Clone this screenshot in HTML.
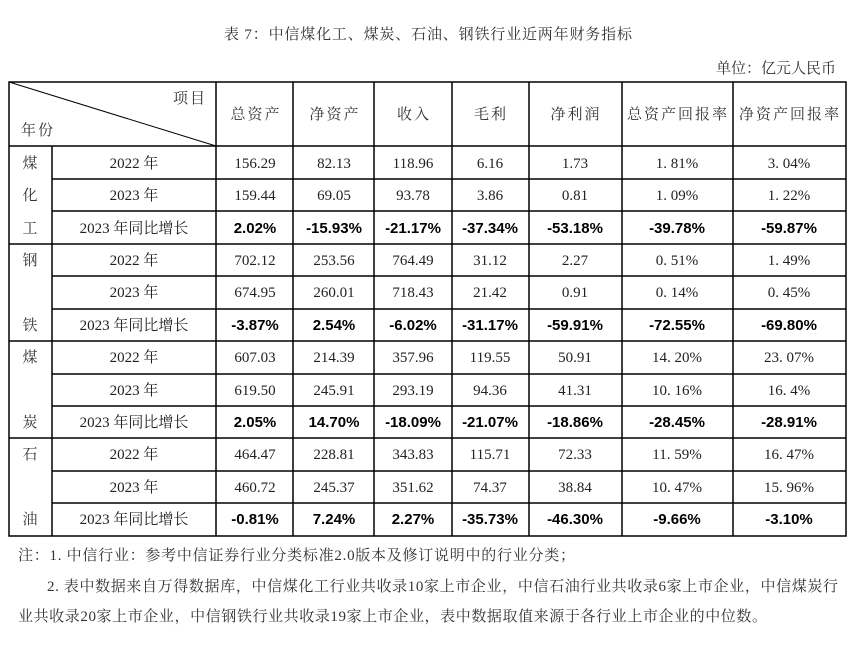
<!DOCTYPE html>
<html><head><meta charset="utf-8"><style>
body{margin:0;background:#fff;}
svg{display:block}
.s{font-family:"Liberation Serif","Noto Serif CJK SC",serif;font-size:15px;fill:#222}
.b{font-family:"Liberation Sans","Noto Sans CJK SC",sans-serif;font-size:15px;font-weight:bold;fill:#000}
.k{font-family:"Liberation Serif","Noto Serif CJK SC",serif;font-size:15px;fill:#333}
.h{letter-spacing:2px}
</style></head><body>
<svg width="855" height="652" xmlns="http://www.w3.org/2000/svg">
<text class="k" x="428" y="39" text-anchor="middle" textLength="408">表 7：中信煤化工、煤炭、石油、钢铁行业近两年财务指标</text>
<text class="k" x="836" y="73" text-anchor="end">单位：亿元人民币</text>
<g stroke="#000" stroke-width="1.5" fill="none">
<rect x="9" y="82" width="837" height="454"/>
<line x1="9" y1="82" x2="216" y2="146" stroke-width="1"/>
<line x1="9" y1="146" x2="846" y2="146"/>
<line x1="52" y1="179" x2="846" y2="179"/><line x1="52" y1="211" x2="846" y2="211"/>
<line x1="9" y1="244" x2="846" y2="244"/>
<line x1="52" y1="276" x2="846" y2="276"/><line x1="52" y1="309" x2="846" y2="309"/>
<line x1="9" y1="341" x2="846" y2="341"/>
<line x1="52" y1="374" x2="846" y2="374"/><line x1="52" y1="406" x2="846" y2="406"/>
<line x1="9" y1="438" x2="846" y2="438"/>
<line x1="52" y1="471" x2="846" y2="471"/><line x1="52" y1="503" x2="846" y2="503"/>
<line x1="52" y1="146" x2="52" y2="536"/>
<line x1="216" y1="82" x2="216" y2="536"/><line x1="293" y1="82" x2="293" y2="536"/>
<line x1="374" y1="82" x2="374" y2="536"/><line x1="452" y1="82" x2="452" y2="536"/>
<line x1="529" y1="82" x2="529" y2="536"/><line x1="622" y1="82" x2="622" y2="536"/>
<line x1="733" y1="82" x2="733" y2="536"/>
</g>
<g class="k" text-anchor="middle">
<text x="190" y="103" class="k h">项目</text><text x="38" y="135" class="k h">年份</text>
<g class="h">
<text x="256" y="119">总资产</text><text x="335" y="119">净资产</text><text x="414" y="119">收入</text>
<text x="491" y="119">毛利</text><text x="576" y="119">净利润</text><text x="678" y="119">总资产回报率</text><text x="790" y="119">净资产回报率</text>
</g>
<text x="30" y="168">煤</text><text x="30" y="200">化</text><text x="30" y="233">工</text>
<text x="30" y="265">钢</text><text x="30" y="330">铁</text>
<text x="30" y="362">煤</text><text x="30" y="427">炭</text>
<text x="30" y="459">石</text><text x="30" y="524">油</text>
</g>
<g class="s" text-anchor="middle">
<text x="134" y="168">2022 年</text><text x="134" y="200">2023 年</text><text x="134" y="233">2023 年同比增长</text>
<text x="134" y="265">2022 年</text><text x="134" y="297">2023 年</text><text x="134" y="330">2023  年同比增长</text>
<text x="134" y="362">2022 年</text><text x="134" y="395">2023 年</text><text x="134" y="427">2023  年同比增长</text>
<text x="134" y="459">2022 年</text><text x="134" y="492">2023 年</text><text x="134" y="524">2023 年同比增长</text>
<text x="255" y="168">156.29</text><text x="334" y="168">82.13</text><text x="413" y="168">118.96</text><text x="490" y="168">6.16</text><text x="575" y="168">1.73</text><text x="677" y="168">1. 81%</text><text x="789" y="168">3. 04%</text>
<text x="255" y="200">159.44</text><text x="334" y="200">69.05</text><text x="413" y="200">93.78</text><text x="490" y="200">3.86</text><text x="575" y="200">0.81</text><text x="677" y="200">1. 09%</text><text x="789" y="200">1. 22%</text>
<text x="255" y="265">702.12</text><text x="334" y="265">253.56</text><text x="413" y="265">764.49</text><text x="490" y="265">31.12</text><text x="575" y="265">2.27</text><text x="677" y="265">0. 51%</text><text x="789" y="265">1. 49%</text>
<text x="255" y="297">674.95</text><text x="334" y="297">260.01</text><text x="413" y="297">718.43</text><text x="490" y="297">21.42</text><text x="575" y="297">0.91</text><text x="677" y="297">0. 14%</text><text x="789" y="297">0. 45%</text>
<text x="255" y="362">607.03</text><text x="334" y="362">214.39</text><text x="413" y="362">357.96</text><text x="490" y="362">119.55</text><text x="575" y="362">50.91</text><text x="677" y="362">14. 20%</text><text x="789" y="362">23. 07%</text>
<text x="255" y="395">619.50</text><text x="334" y="395">245.91</text><text x="413" y="395">293.19</text><text x="490" y="395">94.36</text><text x="575" y="395">41.31</text><text x="677" y="395">10. 16%</text><text x="789" y="395">16. 4%</text>
<text x="255" y="459">464.47</text><text x="334" y="459">228.81</text><text x="413" y="459">343.83</text><text x="490" y="459">115.71</text><text x="575" y="459">72.33</text><text x="677" y="459">11. 59%</text><text x="789" y="459">16. 47%</text>
<text x="255" y="492">460.72</text><text x="334" y="492">245.37</text><text x="413" y="492">351.62</text><text x="490" y="492">74.37</text><text x="575" y="492">38.84</text><text x="677" y="492">10. 47%</text><text x="789" y="492">15. 96%</text>
</g>
<g class="b" text-anchor="middle">
<text x="255" y="233">2.02%</text><text x="334" y="233">-15.93%</text><text x="413" y="233">-21.17%</text><text x="490" y="233">-37.34%</text><text x="575" y="233">-53.18%</text><text x="677" y="233">-39.78%</text><text x="789" y="233">-59.87%</text>
<text x="255" y="330">-3.87%</text><text x="334" y="330">2.54%</text><text x="413" y="330">-6.02%</text><text x="490" y="330">-31.17%</text><text x="575" y="330">-59.91%</text><text x="677" y="330">-72.55%</text><text x="789" y="330">-69.80%</text>
<text x="255" y="427">2.05%</text><text x="334" y="427">14.70%</text><text x="413" y="427">-18.09%</text><text x="490" y="427">-21.07%</text><text x="575" y="427">-18.86%</text><text x="677" y="427">-28.45%</text><text x="789" y="427">-28.91%</text>
<text x="255" y="524">-0.81%</text><text x="334" y="524">7.24%</text><text x="413" y="524">2.27%</text><text x="490" y="524">-35.73%</text><text x="575" y="524">-46.30%</text><text x="677" y="524">-9.66%</text><text x="789" y="524">-3.10%</text>
</g>
<g class="k">
<text x="18" y="560" textLength="557">注：1. 中信行业：参考中信证券行业分类标准2.0版本及修订说明中的行业分类；</text>
<text x="47" y="591" textLength="791">2. 表中数据来自万得数据库，中信煤化工行业共收录10家上市企业，中信石油行业共收录6家上市企业，中信煤炭行</text>
<text x="18" y="621" textLength="749">业共收录20家上市企业，中信钢铁行业共收录19家上市企业，表中数据取值来源于各行业上市企业的中位数。</text>
</g>
</svg>
</body></html>
